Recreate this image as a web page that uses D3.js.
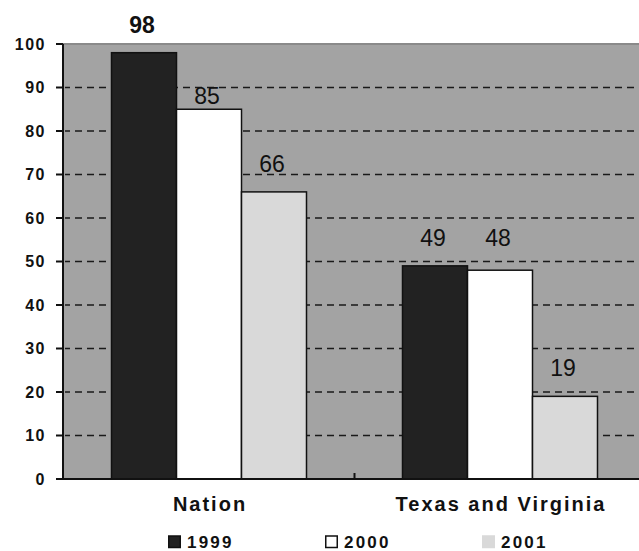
<!DOCTYPE html>
<html>
<head>
<meta charset="utf-8">
<script src="https://cdn.jsdelivr.net/npm/d3@7"></script>
<style>
  html, body { margin: 0; padding: 0; background: #fff; }
  svg { display: block; font-family: "Liberation Sans", Arial, Helvetica, sans-serif; }
</style>
</head>
<body>
<svg id="chart" width="639" height="551"></svg>
<script>
// Chart data
const categories = ["Nation", "Texas and Virginia"];
const seriesNames = ["1999", "2000", "2001"];
const values1999 = [98, 49];
const values2000 = [85, 48];
const values2001 = [66, 19];
const yTicks = [0, 10, 20, 30, 40, 50, 60, 70, 80, 90, 100];

const seriesValues = [values1999, values2000, values2001];
const fills = ["#222222", "#ffffff", "#d9d9d9"];

// Small per-label vertical nudges (px) for value labels
const labelNudge = { "Nation|2000": 15, "Texas and Virginia|2000": -4 };

const svg = d3.select("#chart");
const plotLeft = 63, plotRight = 639, plotTop = 43, plotBottom = 479;

const y = d3.scaleLinear().domain([0, 100]).range([plotBottom, 44]);
const x = d3.scaleBand().domain(categories).range([63.5, 645.5]).padding(0);
const xs = d3.scaleBand().domain(seriesNames).range([48, 243]).padding(0);

// Plot background
svg.append("rect")
  .attr("x", plotLeft).attr("y", plotTop)
  .attr("width", plotRight - plotLeft).attr("height", plotBottom - plotTop)
  .attr("fill", "#a3a3a3");
svg.append("line")
  .attr("x1", plotLeft).attr("x2", plotRight).attr("y1", plotTop + 1).attr("y2", plotTop + 1)
  .attr("stroke", "#8a8a8a").attr("stroke-width", 2);

// Dashed gridlines
svg.append("g").selectAll("line")
  .data(yTicks.filter(d => d > 0 && d < 100))
  .join("line")
  .attr("x1", plotLeft + 2).attr("x2", plotRight)
  .attr("y1", d => y(d)).attr("y2", d => y(d))
  .attr("stroke", "#1a1a1a").attr("stroke-width", 1.6)
  .attr("stroke-dasharray", "7,5")
  .attr("stroke-dashoffset", 2);

// Bars
const rows = [];
categories.forEach((c, ci) => {
  seriesNames.forEach((s, si) => {
    rows.push({ cat: c, series: s, value: seriesValues[si][ci], fill: fills[si] });
  });
});

svg.append("g").selectAll("rect")
  .data(rows)
  .join("rect")
  .attr("x", d => x(d.cat) + xs(d.series))
  .attr("y", d => y(d.value))
  .attr("width", xs.bandwidth())
  .attr("height", d => y(0) - y(d.value))
  .attr("fill", d => d.fill)
  .attr("stroke", "#111")
  .attr("stroke-width", 1.5);

// Value labels
svg.append("g").selectAll("text")
  .data(rows)
  .join("text")
  .attr("x", d => x(d.cat) + xs(d.series) + xs.bandwidth() / 2 - 2)
  .attr("y", d => y(d.value) - 20 + (labelNudge[d.cat + "|" + d.series] || 0))
  .attr("text-anchor", "middle")
  .attr("font-size", 23)
  .attr("font-weight", d => d.value >= 95 ? "bold" : "normal")
  .attr("fill", "#111")
  .text(d => d.value);

// Y axis
const yAxis = svg.append("g");
yAxis.append("line")
  .attr("x1", plotLeft).attr("x2", plotLeft).attr("y1", 44).attr("y2", plotBottom)
  .attr("stroke", "#111").attr("stroke-width", 2);
yAxis.selectAll("line.tick")
  .data(yTicks)
  .join("line").attr("class", "tick")
  .attr("x1", 56).attr("x2", plotLeft)
  .attr("y1", d => y(d)).attr("y2", d => y(d))
  .attr("stroke", "#111").attr("stroke-width", 2);
yAxis.selectAll("text")
  .data(yTicks)
  .join("text")
  .attr("x", 46)
  .attr("y", d => y(d))
  .attr("dy", "0.36em")
  .attr("text-anchor", "end")
  .attr("font-size", 16)
  .attr("font-weight", "bold")
  .attr("letter-spacing", "1.5px")
  .attr("fill", "#111")
  .text(d => d);

// X axis
svg.append("line")
  .attr("x1", 56).attr("x2", plotRight).attr("y1", plotBottom).attr("y2", plotBottom)
  .attr("stroke", "#111").attr("stroke-width", 2);
svg.append("g").selectAll("line")
  .data(categories.slice(1))
  .join("line")
  .attr("x1", d => x(d)).attr("x2", d => x(d))
  .attr("y1", plotBottom).attr("y2", plotBottom - 6)
  .attr("stroke", "#111").attr("stroke-width", 2);
svg.append("g").selectAll("text")
  .data(categories)
  .join("text")
  .attr("x", d => x(d) + x.bandwidth() / 2 + 1)
  .attr("y", 511)
  .attr("text-anchor", "middle")
  .attr("font-size", 20)
  .attr("font-weight", "bold")
  .attr("letter-spacing", "2px")
  .attr("fill", "#111")
  .text(d => d);

// Legend
const legendX = [168, 325, 482];
const legend = svg.append("g").selectAll("g")
  .data(seriesNames)
  .join("g")
  .attr("transform", (d, i) => `translate(${legendX[i]},0)`);
legend.append("rect")
  .attr("x", 0.75).attr("y", 536)
  .attr("width", 11.5).attr("height", 11.5)
  .attr("fill", (d, i) => fills[i])
  .attr("stroke", (d, i) => i === 2 ? "#d9d9d9" : "#111")
  .attr("stroke-width", 1.5);
legend.append("text")
  .attr("x", 19)
  .attr("y", 548)
  .attr("font-size", 17)
  .attr("font-weight", "bold")
  .attr("letter-spacing", "2.2px")
  .attr("fill", "#111")
  .text(d => d);
</script>
</body>
</html>
